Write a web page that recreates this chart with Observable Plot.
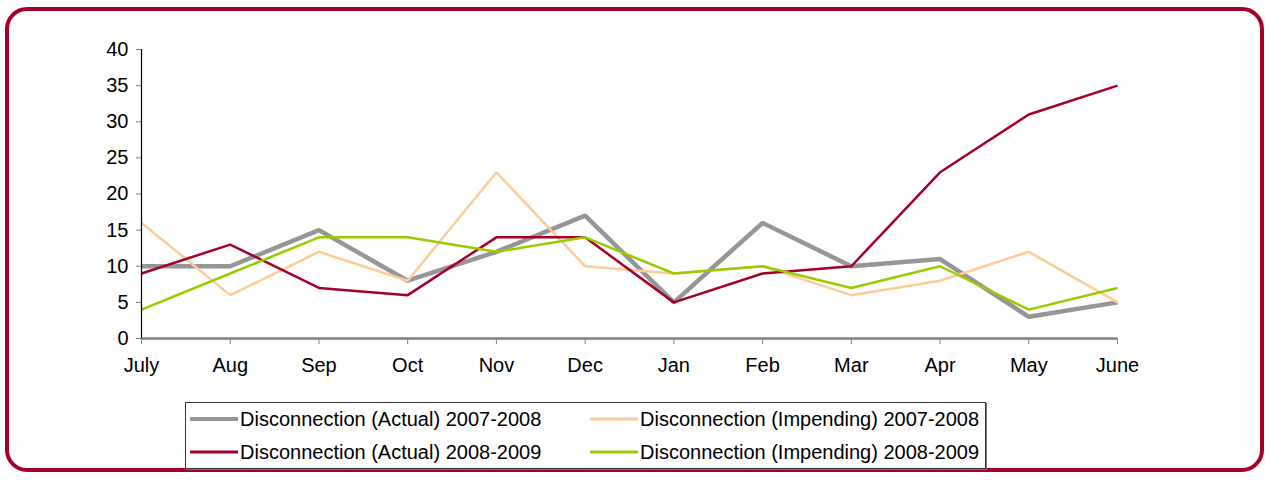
<!DOCTYPE html>
<html>
<head>
<meta charset="utf-8">
<script src="https://cdn.jsdelivr.net/npm/d3@7"></script>
<script src="https://cdn.jsdelivr.net/npm/@observablehq/plot@0.6"></script>
<style>
  html, body { margin: 0; padding: 0; background: #ffffff; }
  #frame { position: relative; width: 1271px; height: 480px; overflow: hidden; font-family: "Liberation Sans", Arial, sans-serif; }
  #border { position: absolute; left: 5px; top: 7px; width: 1259px; height: 465px; border: 4px solid #a6002a; border-radius: 22px; box-sizing: border-box; }
  #chart { position: absolute; left: 0; top: 0; }
  #legend { position: absolute; left: 185px; top: 402px; width: 801px; height: 67px; border: 1px solid #333; box-sizing: border-box; box-shadow: 1px 1px 0 #777; background: #fff; }
  .item { position: absolute; display: flex; align-items: center; font-size: 20px; line-height: 24px; color: #000; white-space: nowrap; }
  .item svg { margin-right: 2px; }
</style>
</head>
<body>
<div id="frame">
  <div id="border"></div>
  <div id="chart"></div>
  <div id="legend"></div>
</div>
<script>
const months = ["July","Aug","Sep","Oct","Nov","Dec","Jan","Feb","Mar","Apr","May","June"];
const actual0708 = [10,10,15,8,12,17,5,16,10,11,3,5];
const impending0708 = [16,6,12,8,23,10,9,10,6,8,12,5];
const actual0809 = [9,13,7,6,14,14,5,9,10,23,31,35];
const impending0809 = [4,9,14,14,12,14,9,10,7,10,4,7];
const yTicks = [0,5,10,15,20,25,30,35,40];

const seriesNames = [
  "Disconnection (Actual) 2007-2008",
  "Disconnection (Impending) 2007-2008",
  "Disconnection (Actual) 2008-2009",
  "Disconnection (Impending) 2008-2009"
];
const seriesValues = [actual0708, impending0708, actual0809, impending0809];
const seriesColors = ["#969696", "#ffcc99", "#a6002a", "#99cc00"];
const seriesWidths = [4.5, 2.5, 2.5, 2.5];

const series = seriesNames.map((name, i) => ({
  name, color: seriesColors[i], width: seriesWidths[i],
  data: months.map((m, j) => ({month: m, value: seriesValues[i][j]}))
}));

const chart = Plot.plot({
  width: 1271,
  height: 382,
  marginLeft: 141,
  marginRight: 154,
  marginTop: 49,
  marginBottom: 44,
  style: {fontFamily: "'Liberation Sans', Arial, sans-serif", fontSize: "20px", color: "#000", background: "transparent"},
  x: {type: "point", domain: months, padding: 0, round: false},
  y: {domain: [0, 40]},
  marks: [
    Plot.axisY({ticks: yTicks, tickSize: 5, tickPadding: 8, stroke: "#808080", label: null, fontSize: 20, color: "#000"}),
    Plot.axisX({tickSize: 6, tickPadding: 13, stroke: "#808080", label: null, fontSize: 20}),
    Plot.ruleY([0], {stroke: "#808080", strokeWidth: 2.5}),
    ...series.map(s => Plot.line(s.data, {x: "month", y: "value", stroke: s.color, strokeWidth: s.width, strokeLinejoin: "miter", strokeLinecap: "butt"})),
    Plot.ruleX([months[0]], {y1: 0, y2: 40, stroke: "#000", strokeWidth: 1.2})
  ]
});
document.getElementById("chart").appendChild(chart);

const legend = document.getElementById("legend");
const pos = [[4, 4], [404, 4], [4, 37], [404, 37]];
series.forEach((s, i) => {
  const d = document.createElement("div");
  d.className = "item";
  d.style.left = pos[i][0] + "px";
  d.style.top = pos[i][1] + "px";
  d.innerHTML = `<svg width="48" height="10"><line x1="1" x2="47" y1="5" y2="5" stroke="${s.color}" stroke-width="${i === 0 ? 4 : 3}" stroke-linecap="round"/></svg><span>${s.name}</span>`;
  legend.appendChild(d);
});
</script>
</body>
</html>
